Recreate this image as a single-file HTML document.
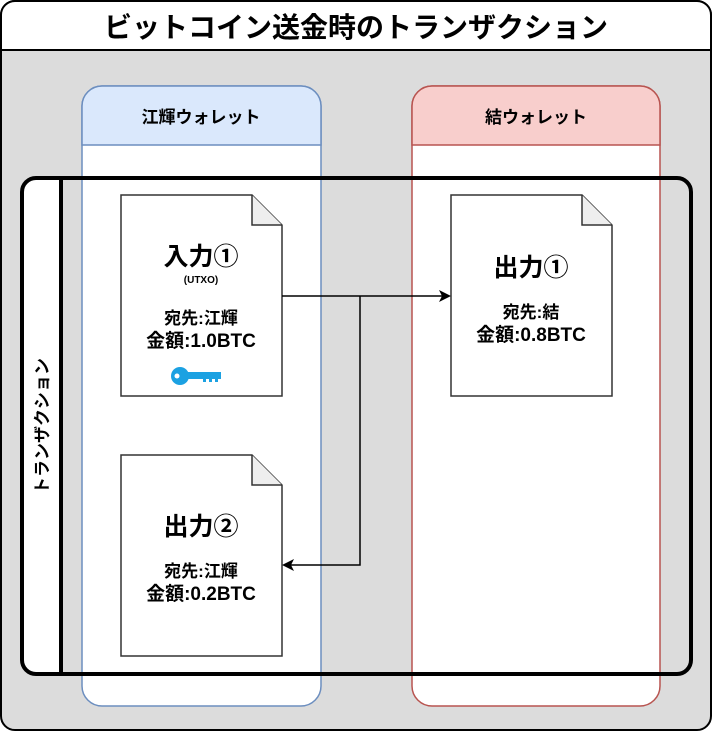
<!DOCTYPE html>
<html><head><meta charset="utf-8"><style>
body{margin:0;background:#fff}
svg text{font-family:"Liberation Sans","Noto Sans CJK JP",sans-serif;font-weight:bold;fill:#000}
</style></head><body>
<svg width="712" height="732" viewBox="0 0 712 732" xmlns="http://www.w3.org/2000/svg">
<rect x="1" y="1" width="710" height="729" rx="14" fill="#dcdcdc" stroke="#000" stroke-width="2"/>
<path d="M1,50 V15 a14,14 0 0 1 14,-14 H697 a14,14 0 0 1 14,14 V50 Z" fill="#fff" stroke="#000" stroke-width="2"/>
<text x="356" y="37" font-size="28" text-anchor="middle">ビットコイン送金時のトランザクション</text>
<!-- blue lane -->
<rect x="82" y="86" width="239" height="620" rx="20" fill="#fff" stroke="#6c8ebf" stroke-width="1.5"/>
<path d="M82,145 V106 a20,20 0 0 1 20,-20 H301 a20,20 0 0 1 20,20 V145 Z" fill="#dae8fc" stroke="#6c8ebf" stroke-width="1.5"/>
<text x="201" y="123" font-size="17" text-anchor="middle">江輝ウォレット</text>
<!-- red lane -->
<rect x="412" y="86" width="248" height="620" rx="20" fill="#fff" stroke="#b85450" stroke-width="1.5"/>
<path d="M412,145 V106 a20,20 0 0 1 20,-20 H640 a20,20 0 0 1 20,20 V145 Z" fill="#f8cecc" stroke="#b85450" stroke-width="1.5"/>
<text x="536" y="123" font-size="17" text-anchor="middle">結ウォレット</text>
<!-- transaction -->
<path d="M61,178 H36 a14,14 0 0 0 -14,14 V660 a14,14 0 0 0 14,14 H61 Z" fill="#fff"/>
<rect x="22" y="178" width="669" height="496" rx="14" fill="none" stroke="#000" stroke-width="4"/>
<line x1="61" y1="178" x2="61" y2="674" stroke="#000" stroke-width="4"/>
<text font-size="17" transform="translate(48,426) rotate(-90)" text-anchor="middle">トランザクション</text>
<!-- docs -->
<g stroke="#333" stroke-width="1.5">
<path d="M121,195 H252 L282,225 V396 H121 Z" fill="#fff"/><path d="M252,195 V225 H282" fill="#eee"/>
<path d="M451,195 H582 L612,225 V396 H451 Z" fill="#fff"/><path d="M582,195 V225 H612" fill="#eee"/>
<path d="M121,455 H252 L282,485 V656 H121 Z" fill="#fff"/><path d="M252,455 V485 H282" fill="#eee"/>
</g>
<text x="201" y="265" font-size="25" text-anchor="middle">入力①</text>
<text x="201" y="283" font-size="10" text-anchor="middle">(UTXO)</text>
<text x="201" y="324" font-size="17" text-anchor="middle">宛先:江輝</text>
<text x="201" y="347" font-size="19" text-anchor="middle">金額:1.0BTC</text>
<g fill="#1ba1e2"><circle cx="180" cy="376" r="9"/><rect x="185" y="372" width="36" height="7"/><rect x="203" y="378" width="3" height="4"/><rect x="209" y="378" width="3" height="4"/><rect x="215" y="378" width="3" height="4"/></g>
<circle cx="177" cy="376" r="2.5" fill="#fff"/>
<text x="531" y="276" font-size="25" text-anchor="middle">出力①</text>
<text x="531" y="318" font-size="17" text-anchor="middle">宛先:結</text>
<text x="531" y="341" font-size="19" text-anchor="middle">金額:0.8BTC</text>
<text x="201" y="535" font-size="25" text-anchor="middle">出力②</text>
<text x="201" y="577" font-size="17" text-anchor="middle">宛先:江輝</text>
<text x="201" y="600" font-size="19" text-anchor="middle">金額:0.2BTC</text>
<!-- arrows -->
<g stroke="#000" stroke-width="1.5" fill="none">
<path d="M282,296 H444"/><path d="M360,296 V565 H289"/>
</g>
<path d="M451,296 L439,290 L442,296 L439,302 Z" fill="#000"/>
<path d="M282,565 L294,559 L291,565 L294,571 Z" fill="#000"/>
</svg>
</body></html>
